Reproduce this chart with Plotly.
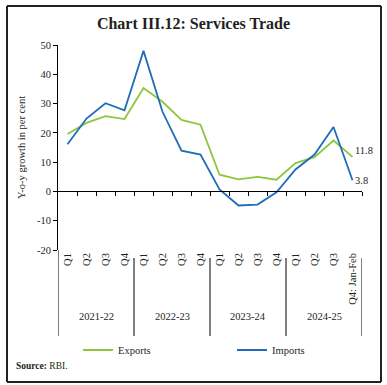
import plotly.graph_objects as go

quarters = ["Q1", "Q2", "Q3", "Q4"] * 3 + ["Q1", "Q2", "Q3", "Q4: Jan-Feb"]
years = ["2021-22", "2022-23", "2023-24", "2024-25"]
exports = [19.6, 23.4, 25.7, 24.7, 35.3, 30.6, 24.4, 22.8, 5.7, 4.1, 5.0, 4.0, 9.7, 11.7, 17.4, 11.8]
imports = [16.1, 24.9, 30.1, 27.7, 48.0, 27.2, 13.9, 12.6, 0.7, -4.8, -4.5, -0.3, 7.5, 12.6, 22.0, 3.8]
yticks = [-20, -10, 0, 10, 20, 30, 40, 50]

GREEN = "#8DC63F"
BLUE = "#1F6DB8"
FONT = "Liberation Serif"
TXT = "#231F20"

n = len(quarters)
xs = list(range(n))

W, H = 387, 385
L, R, T, B = 58, 25, 45, 135
pw, ph = W - L - R, H - T - B

def px(xpix):
    return (xpix - L) / pw

def py(ypix):
    return (H - B - ypix) / ph

ymin, ymax = -20, 50

fig = go.Figure()
fig.add_trace(go.Scatter(x=xs, y=exports, mode="lines", name="Exports",
                         line=dict(color=GREEN, width=1.8), legend="legend"))
fig.add_trace(go.Scatter(x=xs, y=imports, mode="lines", name="Imports",
                         line=dict(color=BLUE, width=1.8), legend="legend2"))
fig.add_trace(go.Scatter(x=[0], y=[0], xaxis="x2", mode="markers",
                         marker=dict(size=1, opacity=0), showlegend=False,
                         hoverinfo="skip"))

legfont = dict(size=10.5, family=FONT, color=TXT)
fig.update_layout(
    width=W, height=H,
    margin=dict(l=L, r=R, t=T, b=B, autoexpand=False),
    paper_bgcolor="white", plot_bgcolor="white",
    font=dict(family=FONT, color=TXT, size=10),
    title=dict(text="<b>Chart III.12: Services Trade</b>", x=0.5, xanchor="center",
               y=1 - 23 / H, yanchor="middle", font=dict(size=16, family=FONT, color=TXT)),
    showlegend=True,
    legend=dict(orientation="h", x=px(78), xanchor="left", y=py(350), yanchor="middle",
                font=legfont, bgcolor="rgba(0,0,0,0)"),
    legend2=dict(orientation="h", x=px(232), xanchor="left", y=py(350), yanchor="middle",
                 font=legfont, bgcolor="rgba(0,0,0,0)"),
    xaxis=dict(range=[-0.5, n - 0.5], anchor="free",
               position=(0 - ymin) / (ymax - ymin),
               showline=True, linecolor="#000", linewidth=1,
               ticks="outside", ticklen=4, tickcolor="#000",
               tickvals=[i + 0.5 for i in range(n)], showticklabels=False,
               showgrid=False, zeroline=False, fixedrange=True),
    xaxis2=dict(range=[-0.5, n - 0.5], overlaying="x", anchor="free", position=0,
                side="bottom", showline=False, ticks="", tickvals=xs, ticktext=quarters,
                tickangle=-90, tickfont=dict(size=10.5, family=FONT, color=TXT),
                showgrid=False, zeroline=False, fixedrange=True),
    yaxis=dict(range=[ymin, ymax], tickvals=yticks, ticktext=[str(v) for v in yticks],
               showline=True, linecolor="#000",
               linewidth=1, ticks="outside", ticklen=4, tickcolor="#000",
               showgrid=False, zeroline=False,
               tickfont=dict(size=10.5, family=FONT, color=TXT),
               title=dict(text="Y-o-y growth in per cent", standoff=9,
                          font=dict(size=10.5, family=FONT, color=TXT)),
               fixedrange=True),
)

shapes = []
for k, b in enumerate([-0.5, 3.5, 7.5, 11.5, 15.5]):
    shapes.append(dict(type="line", xref="x", yref="paper", x0=b, x1=b,
                       y0=0 if k == 0 else py(258), y1=py(336),
                       line=dict(color="#000", width=1)))
fx0, fx1, fy0, fy1 = px(7), px(381), py(382), py(6)
for (a0, b0, a1, b1) in [(fx0, fy0, fx1, fy0), (fx0, fy1, fx1, fy1),
                         (fx0, fy0, fx0, fy1), (fx1, fy0, fx1, fy1)]:
    shapes.append(dict(type="line", xref="paper", yref="paper",
                       x0=a0, y0=b0, x1=a1, y1=b1, layer="above",
                       line=dict(color="#222", width=2)))
fig.update_layout(shapes=shapes)

ann = []
for j, yr in enumerate(years):
    ann.append(dict(text=yr, xref="x", yref="paper", x=4 * j + 1.5, y=py(324),
                    showarrow=False, font=dict(size=10.5, family=FONT, color=TXT)))
ann.append(dict(text=f"{exports[-1]}", xref="x", yref="y", x=xs[-1], y=exports[-1],
                xanchor="left", xshift=0, yshift=6, showarrow=False,
                font=dict(size=10.5, family=FONT, color=TXT)))
ann.append(dict(text=f"{imports[-1]}", xref="x", yref="y", x=xs[-1], y=imports[-1],
                xanchor="left", xshift=0, showarrow=False,
                font=dict(size=10.5, family=FONT, color=TXT)))
ann.append(dict(text="<b>Source:</b> RBI.", xref="paper", yref="paper", x=px(14), y=py(366),
                xanchor="left", yanchor="middle", showarrow=False,
                font=dict(size=9.5, family=FONT, color=TXT)))
fig.update_layout(annotations=ann)

fig.write_html("out.html", config={"displayModeBar": False},
               post_script="document.body.style.margin='0';document.body.style.overflow='hidden';")
